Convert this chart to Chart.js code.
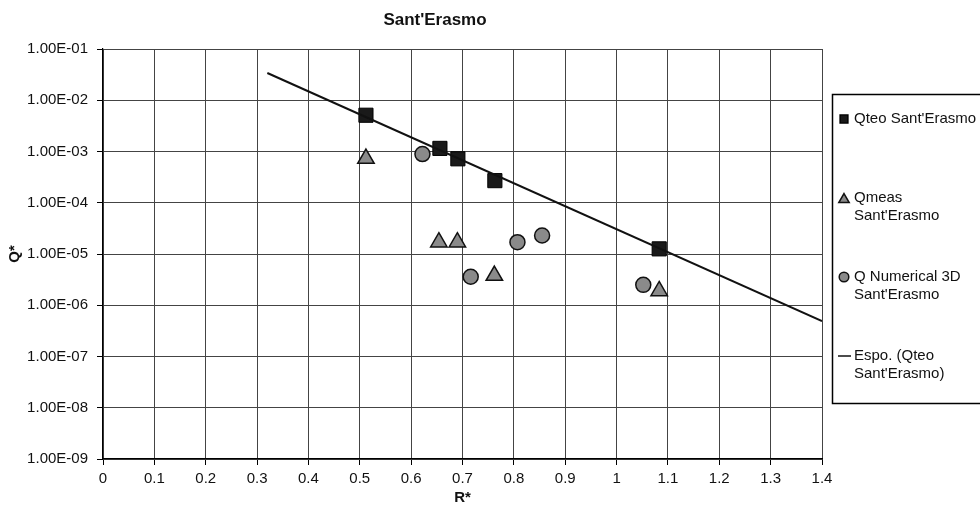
<html><head></head>
<body style="margin:0;background:#fff">
<script src="https://cdn.jsdelivr.net/npm/chart.js@4/dist/chart.umd.min.js"></script>
<canvas id="myChart" width="980" height="509"></canvas>
<script>
// values
chartTitle = "Sant'Erasmo";
xTicks = [0, 0.1, 0.2, 0.3, 0.4, 0.5, 0.6, 0.7, 0.8, 0.9, 1, 1.1, 1.2, 1.3, 1.4];
yTicks = [1e-9, 1e-8, 1e-7, 1e-6, 1e-5, 1e-4, 1e-3, 1e-2, 1e-1];

teoR = [0.512, 0.656, 0.691, 0.763, 1.083];
teoQ = [5.1e-3, 1.15e-3, 7.2e-4, 2.7e-4, 1.26e-5];

measR = [0.512, 0.654, 0.690, 0.762, 1.083];
measQ = [7.3e-4, 1.7e-5, 1.7e-5, 3.8e-6, 1.9e-6];

numR = [0.622, 0.716, 0.807, 0.855, 1.052];
numQ = [8.9e-4, 3.6e-6, 1.7e-5, 2.3e-5, 2.5e-6];

trendR = [0.32, 1.4];
trendQ = [3.4e-2, 4.9e-7];

legendLines = [
  ["Qteo Sant'Erasmo"],
  ["Qmeas", "Sant'Erasmo"],
  ["Q Numerical 3D", "Sant'Erasmo"],
  ["Espo. (Qteo", "Sant'Erasmo)"]
];

FONT = "'Liberation Sans', Arial, sans-serif";

function pts(xs, ys) {
  return xs.map(function(x, i) { return {x: x, y: ys[i]}; });
}
function fmtExp(v) {
  e = Math.round(Math.log10(v));
  a = Math.abs(e);
  return '1.00E' + (e < 0 ? '-' : '+') + (a < 10 ? '0' + a : '' + a);
}

// title + boxed legend drawn on the canvas
extras = {
  id: 'extras',
  afterDraw: function(chart) {
    c = chart.ctx;
    c.save();
    c.fillStyle = '#111';
    c.font = 'bold 17px ' + FONT;
    c.textAlign = 'center';
    c.textBaseline = 'middle';
    c.fillText(chartTitle, 435, 20);

    c.strokeStyle = '#000';
    c.lineWidth = 1.5;
    c.strokeRect(832.5, 94.5, 200, 309);

    rows = [119, 198, 277, 356];
    sizes = [5.5, 6, 4.8, 0];
    c.font = '15px ' + FONT;
    c.textAlign = 'left';
    for (let i = 0; i < 4; i++) {
      ds = chart.data.datasets[i];
      y = rows[i];
      if (ds.showLine) {
        c.strokeStyle = ds.borderColor;
        c.lineWidth = 1.5;
        c.beginPath();
        c.moveTo(838, y);
        c.lineTo(851, y);
        c.stroke();
      } else {
        c.fillStyle = ds.pointBackgroundColor;
        c.strokeStyle = ds.pointBorderColor;
        c.lineWidth = 1.5;
        Chart.helpers.drawPoint(c, {pointStyle: ds.pointStyle, radius: sizes[i], rotation: 0, borderWidth: 1.5}, 844, ds.pointStyle == 'triangle' ? y + 1.5 : y);
      }
      c.fillStyle = '#111';
      for (let j = 0; j < legendLines[i].length; j++) {
        c.fillText(legendLines[i][j], 854, y + j * 18);
      }
    }
    c.restore();
  }
};

ctx = document.getElementById('myChart').getContext('2d');
myChart = new Chart(ctx, {
  type: 'scatter',
  data: {
    datasets: [{
      label: "Qteo Sant'Erasmo",
      data: pts(teoR, teoQ),
      pointStyle: 'rect',
      pointRadius: 10,
      pointBackgroundColor: '#1a1a1a',
      pointBorderColor: '#000',
      pointBorderWidth: 1,
      order: 1
    }, {
      label: "Qmeas Sant'Erasmo",
      data: pts(measR, measQ),
      pointStyle: 'triangle',
      pointRadius: 9.5,
      pointBackgroundColor: '#8a8a8a',
      pointBorderColor: '#111',
      pointBorderWidth: 1.5,
      order: 2
    }, {
      label: "Q Numerical 3D Sant'Erasmo",
      data: pts(numR, numQ),
      pointStyle: 'circle',
      pointRadius: 7.5,
      pointBackgroundColor: '#8a8a8a',
      pointBorderColor: '#111',
      pointBorderWidth: 1.5,
      order: 3
    }, {
      label: "Espo. (Qteo Sant'Erasmo)",
      data: pts(trendR, trendQ),
      showLine: true,
      borderColor: '#111',
      borderWidth: 2,
      pointRadius: 0,
      order: 0
    }]
  },
  options: {
    responsive: false,
    animation: false,
    layout: { padding: { top: 49, right: 158, bottom: 0, left: 0 } },
    plugins: { legend: { display: false }, title: { display: false }, tooltip: { enabled: false } },
    scales: {
      x: {
        type: 'linear',
        min: 0, max: 1.4,
        afterFit: function(s) { s.height = 50; },
        afterBuildTicks: function(s) { s.ticks = xTicks.map(function(v) { return {value: v}; }); },
        ticks: {
          autoSkip: false, maxRotation: 0, padding: 5, color: '#111',
          font: { family: FONT, size: 15 },
          callback: function(v) { return String(parseFloat(v.toFixed(1))); }
        },
        grid: { color: '#444', borderDash: [1, 1], tickLength: 6, tickColor: '#000', tickBorderDash: [] },
        border: { display: true, color: '#000', width: 1.2 },
        title: { display: true, text: 'R*', color: '#111', font: { family: FONT, size: 15, weight: 'bold' }, padding: { top: 0, bottom: 2 } }
      },
      y: {
        type: 'logarithmic',
        min: 1e-9, max: 1e-1,
        afterFit: function(s) { s.width = 103; },
        afterBuildTicks: function(s) { s.ticks = yTicks.map(function(v) { return {value: v}; }); },
        ticks: {
          autoSkip: false, padding: 9, color: '#111',
          font: { family: FONT, size: 15 },
          callback: function(v) { return fmtExp(v); }
        },
        grid: { color: '#444', borderDash: [1, 1], tickLength: 6, tickColor: '#000', tickBorderDash: [] },
        border: { display: true, color: '#000', width: 1.2 },
        title: { display: true, text: 'Q*', color: '#111', font: { family: FONT, size: 15, weight: 'bold' }, padding: { top: 6, bottom: 0 } }
      }
    }
  },
  plugins: [extras]
});
</script>
</body>
</html>
